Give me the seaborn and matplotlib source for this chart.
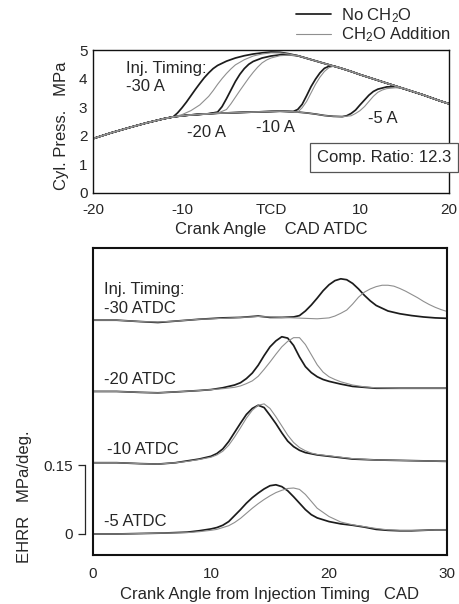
import matplotlib
matplotlib.use("Agg")
import numpy as np
import pandas as pd
import matplotlib.pyplot as plt
import seaborn as sns
from matplotlib.lines import Line2D

# ---------------- data: top panel (cylinder pressure, MPa) ----------------
base_x = [-20, -18, -16, -14, -12, -11, -10, -9, -8, -7, -6, -5, -4, -3, -2, -1, 0, 1, 2, 3, 4, 5, 6, 7, 8, 9]
base_y = [1.90, 2.10, 2.28, 2.45, 2.60, 2.66, 2.70, 2.73, 2.75, 2.77, 2.79, 2.80, 2.81, 2.82, 2.83, 2.84, 2.85, 2.86, 2.85, 2.83, 2.80, 2.76, 2.71, 2.68, 2.67, 2.72]
dec_x = [3, 4, 5, 6, 7, 8, 9, 10, 11, 12, 13, 14, 15, 16, 17, 18, 19, 20]
dec_y = [4.80, 4.71, 4.62, 4.53, 4.44, 4.35, 4.25, 4.14, 4.04, 3.94, 3.84, 3.74, 3.64, 3.54, 3.44, 3.33, 3.22, 3.12]

p30_no_x = [-10.5, -10, -9.5, -9, -8.5, -8, -7.5, -7, -6.5, -6, -5, -4, -3, -2, -1, 0, 1, 2]
p30_no_y = [2.80, 2.98, 3.18, 3.40, 3.62, 3.83, 4.03, 4.20, 4.35, 4.46, 4.61, 4.72, 4.80, 4.86, 4.90, 4.93, 4.92, 4.87]
p30_ch_x = [-10, -9, -8, -7, -6.5, -6, -5.5, -5, -4.5, -4, -3, -2, -1, 0, 1, 2]
p30_ch_y = [2.74, 2.88, 3.08, 3.38, 3.58, 3.80, 4.00, 4.18, 4.34, 4.48, 4.66, 4.79, 4.86, 4.90, 4.90, 4.86]
p20_no_x = [-6, -5.5, -5, -4.5, -4, -3.5, -3, -2.5, -2, -1, 0, 1, 2]
p20_no_y = [2.83, 3.02, 3.30, 3.60, 3.90, 4.15, 4.35, 4.50, 4.60, 4.72, 4.79, 4.83, 4.83]
p20_ch_x = [-5, -4.5, -4, -3.5, -3, -2.5, -2, -1.5, -1, -0.5, 0, 1, 2]
p20_ch_y = [2.92, 3.12, 3.35, 3.58, 3.80, 4.02, 4.22, 4.40, 4.55, 4.65, 4.72, 4.80, 4.82]
p10_no_x = [2.5, 3, 3.5, 4, 4.5, 5, 5.5, 6, 6.5, 7, 7.5]
p10_no_y = [2.85, 2.92, 3.10, 3.40, 3.72, 3.98, 4.20, 4.36, 4.43, 4.44, 4.40]
p10_ch_x = [3.5, 4, 4.5, 5, 5.5, 6, 6.5, 7, 7.5]
p10_ch_y = [2.98, 3.20, 3.50, 3.80, 4.05, 4.25, 4.38, 4.43, 4.41]
p5_no_x = [8.5, 9, 9.5, 10, 10.5, 11, 11.5, 12, 13, 14]
p5_no_y = [2.70, 2.78, 2.90, 3.08, 3.25, 3.42, 3.55, 3.63, 3.71, 3.72]
p5_ch_x = [9, 9.5, 10, 10.5, 11, 11.5, 12, 12.5, 13, 14, 15]
p5_ch_y = [2.70, 2.78, 2.88, 3.02, 3.20, 3.38, 3.52, 3.60, 3.65, 3.68, 3.66]

top_timings = ["-30 A", "-20 A", "-10 A", "-5 A"]
conditions = ["No CH$_2$O", "CH$_2$O Addition"]

# ---------------- data: bottom panel (EHRR, MPa/deg) ----------------
e30_no_x = [0, 2, 4, 5.5, 7, 9, 11, 12.5, 14, 15, 16, 17, 17.5, 18, 18.5, 19, 19.5, 20, 20.5, 21, 21.5, 22, 22.5, 23, 23.5, 24, 25, 26, 27, 28, 29, 30]
e30_no_y = [0, 0.0, -0.003, -0.005, -0.002, 0.002, 0.005, 0.006, 0.009, 0.006, 0.006, 0.007, 0.010, 0.020, 0.033, 0.048, 0.064, 0.077, 0.086, 0.090, 0.088, 0.080, 0.068, 0.054, 0.042, 0.032, 0.020, 0.014, 0.010, 0.007, 0.005, 0.004]
e30_ch_x = [0, 2, 4, 5.5, 7, 9, 11, 12.5, 14, 16, 18, 19, 20, 20.5, 21, 21.5, 22, 22.5, 23, 23.5, 24, 24.5, 25, 25.5, 26, 26.5, 27, 27.5, 28, 28.5, 29, 29.5, 30]
e30_ch_y = [0, 0, -0.003, -0.004, -0.002, 0.002, 0.004, 0.006, 0.008, 0.006, 0.004, 0.003, 0.005, 0.009, 0.015, 0.022, 0.035, 0.050, 0.061, 0.068, 0.073, 0.076, 0.076, 0.074, 0.069, 0.063, 0.056, 0.049, 0.041, 0.034, 0.028, 0.023, 0.019]
e20_no_x = [0, 2, 4, 5.5, 7, 9, 10, 11, 11.5, 12, 12.5, 13, 13.5, 14, 14.5, 15, 15.5, 16, 16.5, 17, 17.5, 18, 18.5, 19, 19.5, 20, 21, 22, 23, 24, 26, 28, 30]
e20_no_y = [0, 0, -0.002, -0.003, -0.001, 0.002, 0.004, 0.008, 0.011, 0.014, 0.019, 0.028, 0.040, 0.057, 0.078, 0.097, 0.110, 0.119, 0.116, 0.100, 0.075, 0.054, 0.041, 0.032, 0.026, 0.022, 0.016, 0.011, 0.009, 0.007, 0.007, 0.007, 0.007]
e20_ch_x = [0, 2, 4, 5.5, 7, 9, 10, 11, 12, 12.5, 13, 13.5, 14, 14.5, 15, 15.5, 16, 16.5, 17, 17.5, 18, 18.5, 19, 19.5, 20, 20.5, 21, 22, 23, 24, 26, 28, 30]
e20_ch_y = [0, 0, -0.002, -0.003, -0.001, 0.002, 0.004, 0.006, 0.009, 0.012, 0.017, 0.023, 0.033, 0.048, 0.064, 0.081, 0.097, 0.109, 0.117, 0.117, 0.102, 0.080, 0.058, 0.042, 0.032, 0.026, 0.021, 0.014, 0.010, 0.008, 0.007, 0.007, 0.007]
e10_no_x = [0, 2, 4, 5.5, 7, 8, 9, 10, 10.5, 11, 11.5, 12, 12.5, 13, 13.5, 14, 14.5, 15, 15.5, 16, 16.5, 17, 17.5, 18, 19, 20, 22, 24, 26, 28, 30]
e10_no_y = [0, 0, -0.002, -0.003, 0, 0.004, 0.008, 0.014, 0.020, 0.030, 0.046, 0.066, 0.086, 0.105, 0.118, 0.125, 0.120, 0.103, 0.085, 0.065, 0.047, 0.035, 0.027, 0.022, 0.017, 0.014, 0.008, 0.006, 0.005, 0.004, 0.003]
e10_ch_x = [0, 2, 4, 5.5, 7, 8, 9, 10, 10.5, 11, 11.5, 12, 12.5, 13, 13.5, 14, 14.5, 15, 15.5, 16, 16.5, 17, 17.5, 18, 18.5, 19, 20, 22, 24, 26, 28, 30]
e10_ch_y = [0, 0, -0.002, -0.003, 0, 0.003, 0.007, 0.012, 0.017, 0.025, 0.038, 0.056, 0.076, 0.097, 0.114, 0.125, 0.128, 0.118, 0.100, 0.080, 0.060, 0.044, 0.033, 0.026, 0.021, 0.018, 0.015, 0.009, 0.006, 0.005, 0.004, 0.003]
e5_x = [0, 2, 4, 6, 8, 9, 10, 10.5, 11, 11.5, 12, 12.5, 13, 13.5, 14, 14.5, 15, 15.5, 16, 16.5, 17, 17.5, 18, 18.5, 19, 20, 21, 22, 23, 24, 25, 26, 27, 28, 29, 30]
e5_no_y = [0, 0, 0.001, 0.002, 0.004, 0.007, 0.011, 0.014, 0.019, 0.027, 0.040, 0.053, 0.067, 0.079, 0.089, 0.098, 0.105, 0.107, 0.103, 0.094, 0.081, 0.067, 0.053, 0.042, 0.035, 0.027, 0.022, 0.019, 0.015, 0.010, 0.008, 0.007, 0.007, 0.008, 0.009, 0.009]
e5_ch_y = [0, 0, 0.001, 0.002, 0.003, 0.005, 0.008, 0.010, 0.014, 0.018, 0.025, 0.034, 0.045, 0.056, 0.066, 0.075, 0.083, 0.090, 0.095, 0.099, 0.100, 0.097, 0.086, 0.071, 0.056, 0.038, 0.026, 0.020, 0.016, 0.012, 0.009, 0.008, 0.008, 0.008, 0.009, 0.009]

bottom_timings = ["-30 ATDC", "-20 ATDC", "-10 ATDC", "-5 ATDC"]
bottom_offsets = [0.465, 0.31, 0.155, 0.0]


def splice(seg_x, seg_y):
    x0, x1 = seg_x[0], seg_x[-1]
    xs = [x for x in base_x if x < x0] + list(seg_x) + [x for x in dec_x if x > x1]
    ys = ([y for x, y in zip(base_x, base_y) if x < x0] + list(seg_y)
          + [y for x, y in zip(dec_x, dec_y) if x > x1])
    return xs, ys


top_segments = [(p30_no_x, p30_no_y, p30_ch_x, p30_ch_y),
                (p20_no_x, p20_no_y, p20_ch_x, p20_ch_y),
                (p10_no_x, p10_no_y, p10_ch_x, p10_ch_y),
                (p5_no_x, p5_no_y, p5_ch_x, p5_ch_y)]
rows = []
for t, (nx, ny, cx, cy) in zip(top_timings, top_segments):
    for cond, (sx, sy) in zip(conditions, [(nx, ny), (cx, cy)]):
        xs, ys = splice(sx, sy)
        for i, (x, y) in enumerate(zip(xs, ys)):
            rows.append(dict(timing=t, cond=cond, x=x, y=y, order=i))
top_df = pd.DataFrame(rows)

bottom_series = [(e30_no_x, e30_no_y, e30_ch_x, e30_ch_y),
                 (e20_no_x, e20_no_y, e20_ch_x, e20_ch_y),
                 (e10_no_x, e10_no_y, e10_ch_x, e10_ch_y),
                 (e5_x, e5_no_y, e5_x, e5_ch_y)]
rows = []
for t, off, (nx, ny, cx, cy) in zip(bottom_timings, bottom_offsets, bottom_series):
    for cond, (sx, sy) in zip(conditions, [(nx, ny), (cx, cy)]):
        for x, y in zip(sx, sy):
            rows.append(dict(timing=t, cond=cond, x=x, y=y + off))
bot_df = pd.DataFrame(rows)

# ---------------- style ----------------
sns.set_style("white")
plt.rcParams["font.family"] = ["Liberation Sans", "DejaVu Sans"]
plt.rcParams["mathtext.fontset"] = "custom"
plt.rcParams["mathtext.rm"] = "Liberation Sans"
plt.rcParams["mathtext.it"] = "Liberation Sans"
plt.rcParams["mathtext.bf"] = "Liberation Sans"
TXT = "#262626"
palette = {conditions[0]: "#1c1c1c", conditions[1]: "#8f8f8f"}
FS = 12
TFS = 11

fig = plt.figure(figsize=(4.59, 6.04), dpi=100)
ax1 = fig.add_axes([93 / 459, 1 - 193 / 604, 356 / 459, 143 / 604])
ax2 = fig.add_axes([93 / 459, 1 - 555 / 604, 354 / 459, 307 / 604])

# top panel
for cond, lw in zip(conditions, [1.25, 0.8]):
    sub = top_df[top_df.cond == cond]
    sns.lineplot(data=sub, x="x", y="y", units="timing", estimator=None, sort=False,
                 color=palette[cond], linewidth=lw, ax=ax1, legend=False)
ax1.set_xlim(-20, 20)
ax1.set_ylim(0, 5)
ax1.set_xticks([-20, -10, 0, 10, 20], labels=["-20", "-10", "TCD", "10", "20"])
ax1.set_yticks([0, 1, 2, 3, 4, 5], labels=["0", "1", "2", "3", "4", "5"])
ax1.tick_params(axis="both", direction="in", length=5, width=0.9, colors="#111",
                labelsize=TFS, labelcolor=TXT)
ax1.tick_params(axis="x", pad=7)
ax1.tick_params(axis="y", pad=4)
for s in ax1.spines.values():
    s.set_linewidth(1.0)
    s.set_color("#111")
ax1.set_xlabel("Crank Angle    CAD ATDC", fontsize=FS, color=TXT)
ax1.set_ylabel("Cyl. Press.   MPa", fontsize=FS, color=TXT)
ax1.xaxis.set_label_coords(0.5, -0.205)
ax1.yaxis.set_label_coords(-0.068, 0.47)

ax1.text(-16.3, 4.37, "Inj. Timing:", fontsize=FS, color=TXT, va="center", ha="left")
ax1.text(-16.3, 3.74, "-30 A", fontsize=FS, color=TXT, va="center", ha="left")
ax1.text(-7.3, 2.12, "-20 A", fontsize=FS, color=TXT, va="center", ha="center")
ax1.text(0.5, 2.29, "-10 A", fontsize=FS, color=TXT, va="center", ha="center")
ax1.text(12.6, 2.59, "-5 A", fontsize=FS, color=TXT, va="center", ha="center")
ax1.text(0.817, 0.248, "Comp. Ratio: 12.3", transform=ax1.transAxes, fontsize=FS,
         color=TXT, va="center", ha="center", clip_on=False,
         bbox=dict(boxstyle="square,pad=0.4", fc="white", ec="#555", lw=0.9))

handles = [Line2D([], [], color=palette[conditions[0]], lw=1.25),
           Line2D([], [], color=palette[conditions[1]], lw=0.8)]
fig.legend(handles, conditions, loc="upper left", bbox_to_anchor=(296 / 459, 1 - 6 / 604),
           frameon=False, fontsize=FS, handlelength=2.1, handletextpad=0.6,
           borderpad=0, borderaxespad=0, labelspacing=0.05, labelcolor=TXT)

# bottom panel
for cond, lw in zip(conditions, [1.25, 0.8]):
    sub = bot_df[bot_df.cond == cond]
    sns.lineplot(data=sub, x="x", y="y", units="timing", estimator=None, sort=False,
                 color=palette[cond], linewidth=lw, ax=ax2, legend=False)
ax2.set_xlim(0, 30)
ax2.set_ylim(-0.0457, 0.622)
ax2.set_xticks([0, 10, 20, 30], labels=["0", "10", "20", "30"])
ax2.set_yticks([])
ax2.tick_params(axis="x", direction="in", length=5, width=0.9, colors="#111",
                labelsize=TFS, labelcolor=TXT, pad=9)
for s in ax2.spines.values():
    s.set_linewidth(1.5)
    s.set_color("#111")
ax2.set_xlabel("Crank Angle from Injection Timing   CAD", fontsize=FS, color=TXT)
ax2.xaxis.set_label_coords(0.5, -0.105)
ax2.set_ylabel("")

sec = ax2.secondary_yaxis(-8 / 354)
sec.set_yticks([0, 0.15], labels=["0", "0.15"])
sec.spines["left"].set_bounds(0, 0.15)
sec.spines["left"].set_linewidth(0.9)
sec.tick_params(direction="out", length=5, width=0.9, labelsize=TFS, labelcolor=TXT, pad=4)
fig.text(25 / 459, 1 - 497 / 604, "EHRR   MPa/deg.", rotation=90, fontsize=FS,
         color=TXT, ha="center", va="center")

ax2.text(0.93, 0.532, "Inj. Timing:", fontsize=FS, color=TXT, va="center", ha="left")
ax2.text(0.93, 0.491, "-30 ATDC", fontsize=FS, color=TXT, va="center", ha="left")
ax2.text(0.95, 0.335, "-20 ATDC", fontsize=FS, color=TXT, va="center", ha="left")
ax2.text(1.16, 0.183, "-10 ATDC", fontsize=FS, color=TXT, va="center", ha="left")
ax2.text(0.95, 0.028, "-5 ATDC", fontsize=FS, color=TXT, va="center", ha="left")

fig.savefig("out.png", dpi=100)
